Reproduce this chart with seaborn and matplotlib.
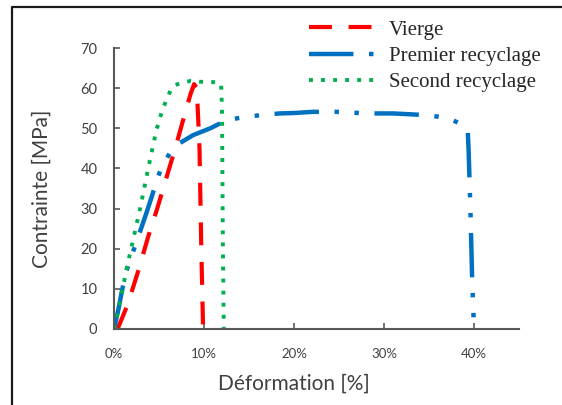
import matplotlib
matplotlib.use("Agg")
import matplotlib.pyplot as plt
from matplotlib.lines import Line2D
from matplotlib.ticker import FuncFormatter
import seaborn as sns
import pandas as pd

# ---- data (strain in %, stress in MPa) ----
vierge_strain = [0.4, 1.5, 2.7, 3.8, 4.8, 5.8, 6.8, 7.8, 8.5, 8.9, 9.2, 9.5, 9.7, 9.9]
vierge_stress = [0, 6, 14.5, 23, 30, 37.5, 45, 53, 58.5, 61, 60, 45, 20, 0]

premier_strain = [0, 0.5, 0.9, 1.4, 2.0, 2.7, 3.6, 4.2, 4.7, 5.3, 6.2, 7.3, 8.8, 10.7, 12.5,
                  14.7, 16.5, 18.4, 20.0, 22.1, 24.7, 26.5, 28.1, 29.6, 31.0, 32.8, 34.4,
                  36.0, 37.3, 38.4, 39.3, 39.4, 39.6, 39.8, 40.0]
premier_stress = [0, 5, 9.7, 14.6, 18.5, 23, 28.9, 33, 36.7, 40.4, 43.8, 46.3, 48.3, 50, 52,
                  52.9, 53.3, 53.7, 53.8, 54.1, 54.1, 53.9, 53.7, 53.7, 53.7, 53.5, 53.3,
                  52.9, 52.4, 51.2, 49.6, 44.6, 30, 12, 0]

second_strain = [0, 0.7, 1.4, 2.0, 2.9, 3.8, 4.7, 5.3, 5.8, 6.3, 6.8, 7.5, 8.5, 9.5, 10.5,
                 11.5, 11.9, 12.0, 12.1, 12.2]
second_stress = [0, 7, 15, 21, 30, 40, 49.5, 54, 57, 59.5, 60.8, 61.3, 61.8, 61.6, 61.5,
                 61.5, 61, 55, 20, 0]

series_names = ["Vierge", "Premier recyclage", "Second recyclage"]
x_ticks = [0, 10, 20, 30, 40]
y_ticks = [0, 10, 20, 30, 40, 50, 60, 70]

W, H = 562, 405
fig = plt.figure(figsize=(W / 100, H / 100), dpi=100)
ax = fig.add_axes([114 / W, 1 - 329 / H, (519 - 114) / W, (329 - 48) / H])
sns.set_style("white")

def add(xs, ys, name, color, ls, lw):
    df = pd.DataFrame({"x": xs, "y": ys})
    sns.lineplot(data=df, x="x", y="y", ax=ax, sort=False, estimator=None,
                 color=color, linestyle=ls, linewidth=lw, label=name)

add(vierge_strain, vierge_stress, series_names[0], "#FF0000", (0, (5.5, 4)), 3.0)
add(premier_strain, premier_stress, series_names[1], "#0070C0",
    (0, (10, 3.5, 1, 3.5, 1, 3.5)), 3.2)
add(second_strain, second_stress, series_names[2], "#00B050", (0, (1, 2.1)), 2.8)

ax.set_xlim(0, 45)
ax.set_ylim(0, 70)
ax.set_xticks(x_ticks)
ax.set_yticks(y_ticks)
ax.xaxis.set_major_formatter(FuncFormatter(lambda v, p: f"{int(v)}%"))
for s in ["top", "right"]:
    ax.spines[s].set_visible(False)
for s in ["left", "bottom"]:
    ax.spines[s].set_color("#595959")
    ax.spines[s].set_linewidth(1.5)
ax.tick_params(axis="both", direction="in", length=4, width=1.2, color="#595959",
               labelcolor="#404040")
ax.tick_params(axis="y", pad=12, labelsize=10.5)
ax.tick_params(axis="x", pad=14, labelsize=9.5)
for lab in ax.get_xticklabels() + ax.get_yticklabels():
    lab.set_family("Lato")

ax.set_xlabel("Déformation [%]", family="Lato", fontsize=15, color="#404040")
ax.set_ylabel("Contrainte [MPa]", family="Lato", fontsize=15, color="#404040")
ax.xaxis.set_label_coords((294 - 114) / (519 - 114), -(374 - 329) / (329 - 48))
ax.yaxis.set_label_coords(-(114 - 52) / (519 - 114), 0.5)

ax.get_legend().remove()
handles, labels = ax.get_legend_handles_labels()
leg = fig.legend(handles, labels, loc="upper left",
                 bbox_to_anchor=(309 / W, 1 - 20 / H), frameon=False,
                 prop={"family": "Liberation Serif", "size": 15},
                 handlelength=3.27, handletextpad=0.55, labelspacing=0.33,
                 borderpad=0, borderaxespad=0)

# outer frame
fig.add_artist(Line2D([12 / W, 12 / W, 1], [0, 1 - 7 / H, 1 - 7 / H],
                      transform=fig.transFigure, color="#1a1a1a", lw=1.6))

fig.savefig("out.png", dpi=100)
